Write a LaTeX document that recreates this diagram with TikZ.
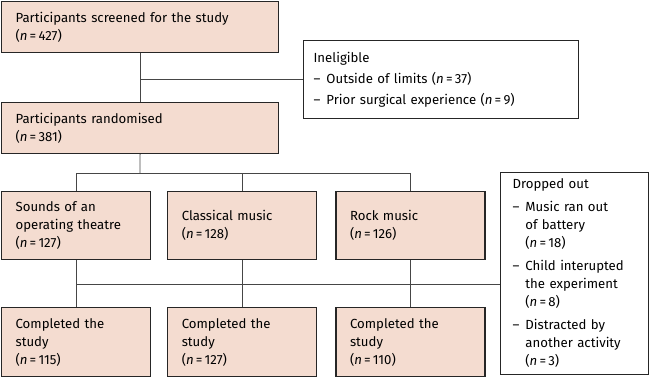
\documentclass[tikz,border=0pt]{standalone}
\usepackage{fontspec}
\setmainfont{Fira Sans}
\usetikzlibrary{positioning}

\definecolor{boxfill}{RGB}{244,220,208}
\definecolor{linegray}{RGB}{70,70,70}
\newcommand{\nn}[1]{(\textit{n}\,=\,#1)}

\tikzset{
  stage/.style={draw=black!85, line width=1.2pt, fill=boxfill, align=left,
    anchor=north west, inner xsep=14pt, inner ysep=0pt, text width=#1,
    font=\fontsize{13.2}{18}\selectfont},
  note/.style={draw=black!85, line width=1.2pt, fill=white, align=left,
    anchor=north west, inner ysep=0pt, font=\fontsize{13.2}{18}\selectfont},
  link/.style={draw=linegray, line width=0.8pt}
}

\begin{document}
\begin{tikzpicture}[x=1pt, y=-1pt]
\useasboundingbox (0,0) rectangle (650,376);

% screening and randomisation
\node (scr) [stage=249pt, minimum height=51pt] at (1,1) {Participants screened for the study\\\nn{427}};
\node (rand) [stage=249pt, minimum height=51pt] at (1,102) {Participants randomised\\\nn{381}};
\node (inel) [note, inner xsep=10pt, text width=255pt, minimum height=78pt] at (303,40)
  {\begin{tabular}{@{}l@{\hspace{6pt}}l@{}}
   \multicolumn{2}{@{}l@{}}{Ineligible}\\[3pt]
   –&Outside of limits \nn{37}\\[3pt]
   –&Prior surgical experience \nn{9}
   \end{tabular}};

% groups
\node (g1) [stage=121pt, minimum height=68pt] at (1,191) {Sounds of an\\operating theatre\\\nn{127}};
\node (g2) [stage=121pt, minimum height=68pt, right=16pt of g1] {Classical music\\\nn{128}};
\node (g3) [stage=121pt, minimum height=68pt, right=18pt of g2] {Rock music\\\nn{126}};

% completed
\node (c1) [stage=121pt, minimum height=69pt, below=47pt of g1] {Completed the\\study\\\nn{115}};
\node (c2) [stage=121pt, minimum height=69pt, below=47pt of g2] {Completed the\\study\\\nn{127}};
\node (c3) [stage=121pt, minimum height=69pt, below=47pt of g3] {Completed the\\study\\\nn{110}};

\node (drop) [note, inner xsep=12pt, text width=124pt, minimum height=202pt] at (500,172)
  {\begin{tabular}{@{}l@{\hspace{6pt}}l@{}}
   \multicolumn{2}{@{}l@{}}{Dropped out}\\[5pt]
   –&Music ran out\\ &of battery\\ &\nn{18}\\[5pt]
   –&Child interupted\\ &the experiment\\ &\nn{8}\\[5pt]
   –&Distracted by\\ &another activity\\ &\nn{3}
   \end{tabular}};

% connectors
\coordinate (bus1) at (140,173);
\coordinate (bus2) at (140,284);
\draw[link] (scr.south) -- (rand.north);
\draw[link] (inel.west) -- (inel.west -| scr.south);
\draw[link] (rand.south) -- (bus1);
\draw[link] (g1.north) |- (g3.north |- bus1) -- (g3.north);
\draw[link] (g2.north) -- (g2.north |- bus1);
\draw[link] (g1.south) -- (c1.north);
\draw[link] (g2.south) -- (c2.north);
\draw[link] (g3.south) -- (c3.north);
\draw[link] (g1.south |- bus2) -- (drop.west |- bus2);
\end{tikzpicture}
\end{document}
